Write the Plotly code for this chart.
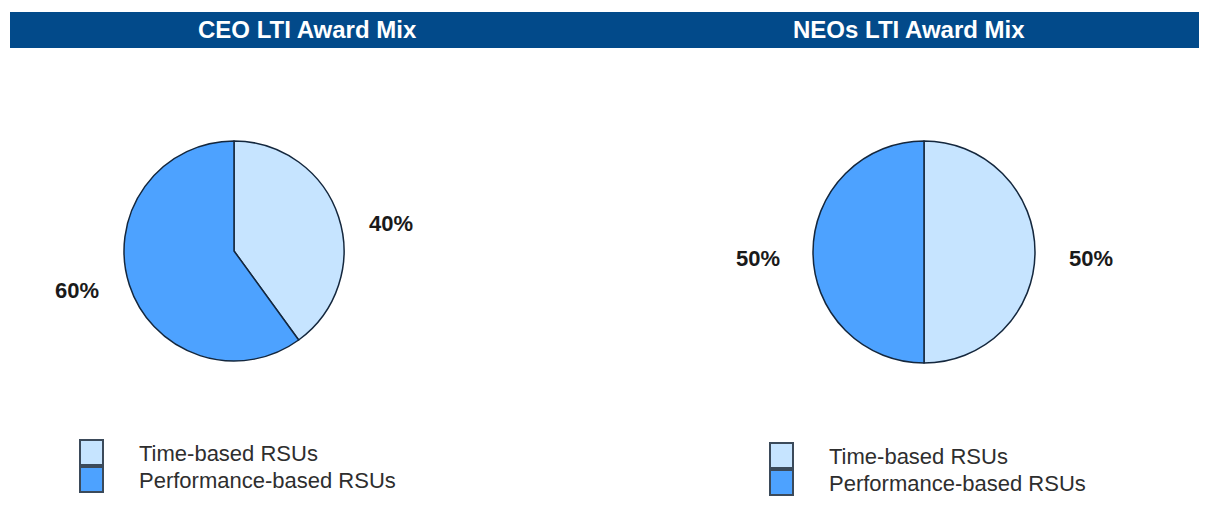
import math
import plotly.graph_objects as go

# data
labels = ["Time-based RSUs", "Performance-based RSUs"]
ceo_values = [40, 60]
neo_values = [50, 50]
titles = ["CEO LTI Award Mix", "NEOs LTI Award Mix"]
colors = ["#C6E4FF", "#4DA2FF"]

# figure size (the page adds an 8px body margin, so keep it inside the window)
W, H = 1199, 490

# pie placement in pixels: (center x, center y, radius)
pies = [(226, 243, 110), (916, 244, 111)]
# title centres and legend top-left corners in pixels
title_x = [299, 901]
legend_xy = [(72, 432), (762, 435)]


def px(x):
    return x / W


def py(y):
    return 1 - y / H


fig = go.Figure()

for i, vals in enumerate([ceo_values, neo_values]):
    cx, cy, r = pies[i]
    fig.add_trace(go.Pie(
        labels=labels, values=vals, sort=False, direction="clockwise", rotation=0,
        marker=dict(colors=colors, line=dict(color="#14273d", width=1.5)),
        textinfo="none", hoverinfo="label+percent", showlegend=False,
        domain=dict(x=[px(cx - r), px(cx + r)], y=[py(cy + r), py(cy - r)]),
    ))

    # percent labels outside each slice, at the slice mid-angle
    total = sum(vals)
    start = 0
    for v in vals:
        mid = math.radians((start + v / 2) / total * 360)
        start += v
        fig.add_annotation(
            x=px(cx + 1.5 * r * math.sin(mid)), y=py(cy - r * math.cos(mid) + 6),
            xref="paper", yref="paper", xanchor="center", yanchor="middle",
            showarrow=False, text="<b>%d%%</b>" % round(v / total * 100),
            font=dict(size=22, color="#1a1a1a"),
        )

    # title over the header bar
    fig.add_annotation(x=px(title_x[i]), y=py(22), xref="paper", yref="paper",
                       xanchor="center", yanchor="middle", showarrow=False,
                       text="<b>%s</b>" % titles[i], font=dict(size=24, color="white"))

    # legend: coloured boxes with labels
    lx, ly = legend_xy[i]
    for j, (lab, col) in enumerate(zip(labels, colors)):
        top = ly + j * 27
        fig.add_shape(type="rect", xref="paper", yref="paper",
                      x0=px(lx), x1=px(lx + 23), y0=py(top + 25), y1=py(top),
                      fillcolor=col, line=dict(color="#3b4a5a", width=2))
        fig.add_annotation(x=px(lx + 57), y=py(top + 13), xref="paper", yref="paper",
                           xanchor="left", yanchor="middle", showarrow=False,
                           text=lab, font=dict(size=22, color="#2e2e2e"))

# header bar
fig.add_shape(type="rect", xref="paper", yref="paper", x0=px(2), x1=1, y0=py(40), y1=py(4),
              fillcolor="#024A8A", line=dict(width=0), layer="below")

fig.update_layout(
    width=W, height=H, margin=dict(l=0, r=0, t=0, b=0),
    paper_bgcolor="white", plot_bgcolor="white",
    font=dict(family="Liberation Sans, Arial, sans-serif"),
    showlegend=False,
)

fig.write_html("out.html")
